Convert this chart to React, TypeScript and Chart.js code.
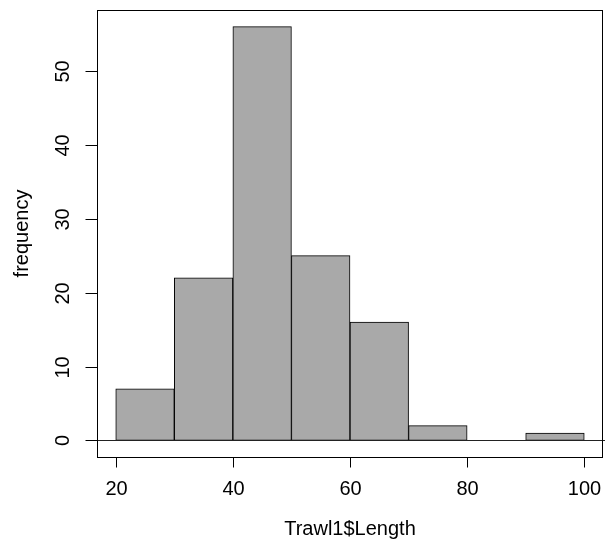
import React, { useEffect, useRef } from "react";
import { Chart, registerables } from "chart.js";

Chart.register(...registerables);

const binCenters = [25, 35, 45, 55, 65, 75, 85, 95];
const frequencies = [7, 22, 56, 25, 16, 2, 0, 1];
const xTicks = [20, 40, 60, 80, 100];
const yTicks = [0, 10, 20, 30, 40, 50];
const xTitle = "Trawl1$Length";
const yTitle = "frequency";

const FONT = '20px "Liberation Sans", Arial, Helvetica, sans-serif';

const rAxesPlugin = {
  id: "rAxes",
  afterDatasetsDraw(chart: any) {
    const { ctx, chartArea } = chart;
    const xs = chart.scales.x;
    const ys = chart.scales.y;
    const { left, right, top, bottom } = chartArea;
    ctx.save();
    ctx.strokeStyle = "#000";
    ctx.lineWidth = 1;
    // abline h = 0
    const y0 = Math.round(ys.getPixelForValue(0)) + 0.5;
    ctx.strokeStyle = "#222";
    ctx.beginPath();
    ctx.moveTo(left, y0);
    ctx.lineTo(right + 2, y0);
    ctx.stroke();
    ctx.strokeStyle = "#000";
    // box
    ctx.strokeRect(Math.round(left) + 0.5, Math.round(top) + 0.5, Math.round(right - left) - 1, Math.round(bottom - top));
    ctx.fillStyle = "#000";
    ctx.font = FONT;
    ctx.textAlign = "center";
    ctx.textBaseline = "middle";
    // x ticks
    const bx = Math.round(bottom) + 0.5;
    for (const v of xTicks) {
      const px = Math.round(xs.getPixelForValue(v)) + 0.5;
      ctx.beginPath();
      ctx.moveTo(px, bx);
      ctx.lineTo(px, bx + 10);
      ctx.stroke();
      ctx.fillText(String(v), px, 489);
    }
    // y ticks
    const lx = Math.round(left) + 0.5;
    for (const v of yTicks) {
      const py = Math.round(ys.getPixelForValue(v)) + 0.5;
      ctx.beginPath();
      ctx.moveTo(lx, py);
      ctx.lineTo(lx - 12, py);
      ctx.stroke();
      ctx.save();
      ctx.translate(63, py);
      ctx.rotate(-Math.PI / 2);
      ctx.fillText(String(v), 0, 0);
      ctx.restore();
    }
    // titles
    ctx.fillText(xTitle, (left + right) / 2, 529);
    ctx.save();
    ctx.translate(22, (top + bottom) / 2);
    ctx.rotate(-Math.PI / 2);
    ctx.fillText(yTitle, 0, 0);
    ctx.restore();
    ctx.restore();
  },
};

export default function App() {
  const ref = useRef<HTMLCanvasElement | null>(null);
  useEffect(() => {
    if (!ref.current) return;
    const chart = new Chart(ref.current, {
      type: "bar",
      data: {
        datasets: [
          {
            data: binCenters.map((c, i) => ({ x: c, y: frequencies[i] })),
            backgroundColor: "#a9a9a9",
            borderColor: "#000",
            borderWidth: 1,
            borderSkipped: false,
            barPercentage: 1,
            categoryPercentage: 1,
            minBarLength: 0,
          } as any,
        ],
      },
      options: {
        responsive: false,
        animation: false,
        devicePixelRatio: 1,
        layout: { padding: { left: 0, top: 10, right: 2, bottom: 0 } },
        plugins: { legend: { display: false }, tooltip: { enabled: false } },
        scales: {
          x: {
            type: "linear",
            min: 16.8,
            max: 103.2,
            offset: false,
            grid: { display: false },
            border: { display: false },
            ticks: { display: false },
            afterFit: (s: any) => {
              s.height = 89;
            },
          },
          y: {
            type: "linear",
            min: -2.24,
            max: 58.24,
            grid: { display: false },
            border: { display: false },
            ticks: { display: false },
            afterFit: (s: any) => {
              s.width = 97;
            },
          },
        },
      },
      plugins: [rAxesPlugin],
    });
    return () => chart.destroy();
  }, []);
  return (
    <div style={{ position: "fixed", left: 0, top: 0, width: 605, height: 546, background: "#fff" }}>
      <canvas ref={ref} width={605} height={546} style={{ display: "block" }} />
    </div>
  );
}
